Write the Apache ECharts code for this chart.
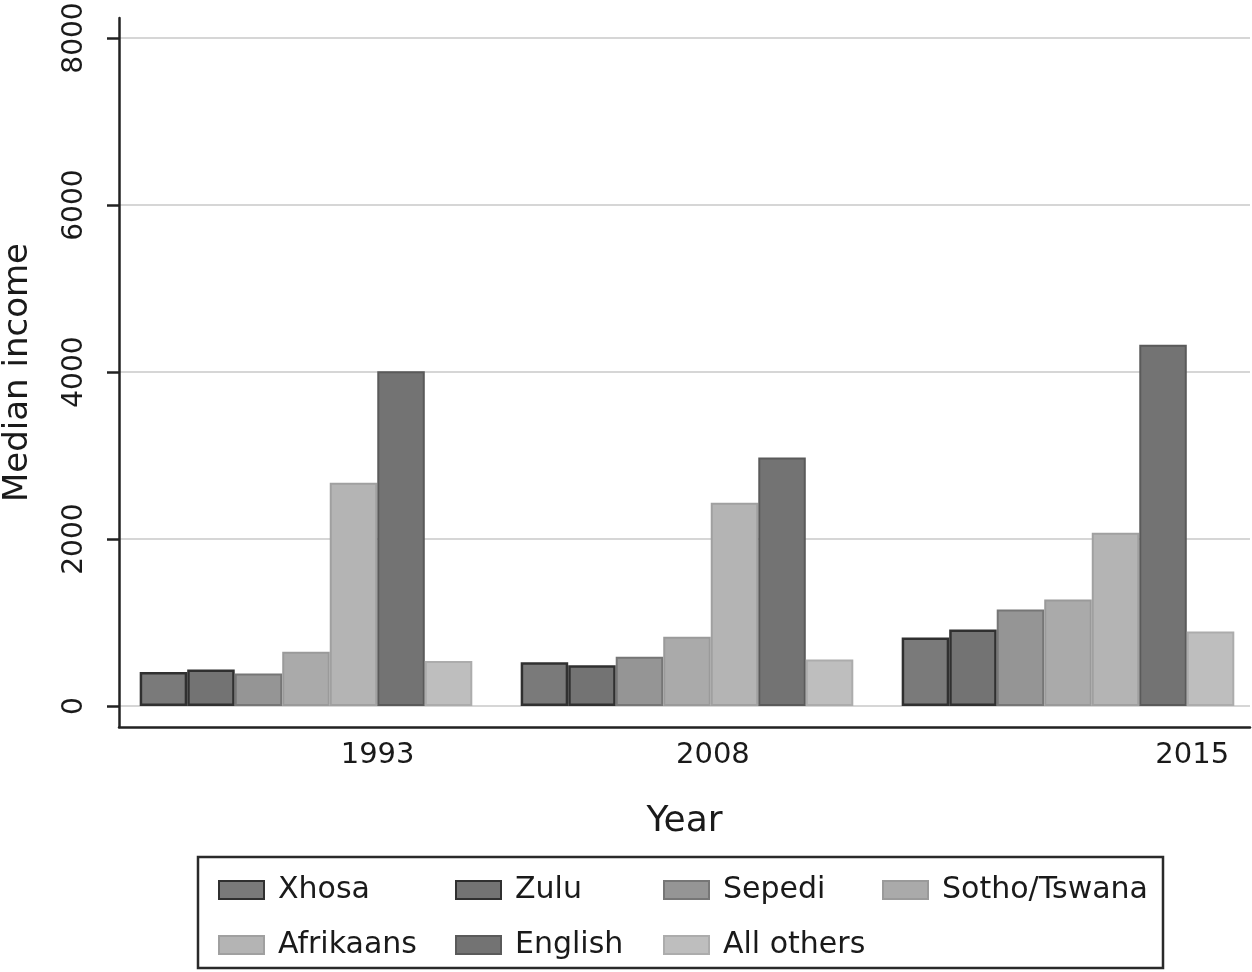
<!DOCTYPE html>
<html>
<head>
<meta charset="utf-8">
<script src="https://cdn.jsdelivr.net/npm/echarts@6/dist/echarts.min.js"></script>
<style>
html,body{margin:0;padding:0;background:#fff;}
#chart{width:1252px;height:972px;}
</style>
</head>
<body>
<div id="chart"></div>
<script>
// ---- data ----
const years = ['1993', '2008', '2015'];
const xhosa = [410, 525, 822];
const zulu = [440, 490, 918];
const sepedi = [390, 590, 1158];
const sothoTswana = [650, 830, 1277];
const afrikaans = [2675, 2435, 2076];
const english = [4010, 2978, 4327];
const allOthers = [540, 559, 894];
const yTicks = [0, 2000, 4000, 6000, 8000];

const seriesDefs = [
  { name: 'Xhosa', values: xhosa, fill: '#7a7a7a', border: '#303030', bw: 2.5 },
  { name: 'Zulu', values: zulu, fill: '#737373', border: '#303030', bw: 2.5 },
  { name: 'Sepedi', values: sepedi, fill: '#959595', border: '#767676', bw: 2 },
  { name: 'Sotho/Tswana', values: sothoTswana, fill: '#aaaaaa', border: '#9a9a9a', bw: 2 },
  { name: 'Afrikaans', values: afrikaans, fill: '#b4b4b4', border: '#a0a0a0', bw: 2 },
  { name: 'English', values: english, fill: '#737373', border: '#5a5a5a', bw: 2 },
  { name: 'All others', values: allOthers, fill: '#bebebe', border: '#acacac', bw: 2 }
];

const FONT = 'DejaVu Sans';
const chart = echarts.init(document.getElementById('chart'), null, { renderer: 'canvas' });

const series = seriesDefs.map(d => ({
  name: d.name,
  type: 'bar',
  barGap: '0%',
  barCategoryGap: '12.7%',
  data: d.values.map((v, i) => [i, v]),
  itemStyle: { color: d.fill, borderColor: d.border, borderWidth: d.bw },
  emphasis: { disabled: true },
  animation: false
}));

const legendCols = [
  { left: 218, names: ['Xhosa', 'Afrikaans'] },
  { left: 455, names: ['Zulu', 'English'] },
  { left: 663, names: ['Sepedi', 'All others'] },
  { left: 882, names: ['Sotho/Tswana'] }
];

const legends = legendCols.map(c => ({
  orient: 'vertical',
  left: c.left,
  top: 875,
  padding: 0,
  itemGap: 25,
  itemWidth: 45,
  itemHeight: 18,
  selectedMode: false,
  icon: 'rect',
  data: c.names,
  textStyle: { fontFamily: FONT, fontSize: 30, color: '#1a1a1a', lineHeight: 30, padding: [0, 0, 0, 9] }
}));

const option = {
  backgroundColor: '#ffffff',
  animation: false,
  grid: { left: 119, right: 2, top: 18, bottom: 245, containLabel: false, outerBoundsMode: 'none' },
  xAxis: {
    type: 'value',
    min: -0.4908,
    max: 2.4777,
    name: 'Year',
    nameLocation: 'middle',
    nameGap: 77,
    nameTextStyle: { fontFamily: FONT, fontSize: 36, color: '#1a1a1a' },
    axisLine: { show: true, onZero: false, lineStyle: { color: '#222', width: 2.5 } },
    axisTick: { show: false },
    splitLine: { show: false },
    axisLabel: {
      customValues: [0.188, 1.068, 2.326],
      formatter: v => years[Math.round(v)],
      fontFamily: FONT, fontSize: 29, color: '#1a1a1a', margin: 14
    }
  },
  yAxis: {
    type: 'value',
    min: -250,
    max: 8240,
    name: 'Median income',
    nameLocation: 'middle',
    nameRotate: 90,
    nameGap: 84,
    nameTextStyle: { fontFamily: FONT, fontSize: 34, color: '#1a1a1a' },
    axisLine: { show: true, onZero: false, lineStyle: { color: '#222', width: 2.5 } },
    axisTick: { show: true, length: 12, customValues: yTicks, lineStyle: { color: '#222', width: 2.5 } },
    splitLine: { show: true, lineStyle: { color: '#d6d6d6', width: 2 } },
    axisLabel: {
      customValues: yTicks,
      rotate: 90,
      formatter: v => String(v),
      fontFamily: FONT, fontSize: 28, color: '#1a1a1a', margin: 30
    }
  },
  legend: legends,
  graphic: [{
    type: 'rect',
    shape: { x: 198, y: 857, width: 965, height: 111 },
    style: { fill: 'none', stroke: '#2a2a2a', lineWidth: 2.5 },
    silent: true
  }],
  series: series
};
chart.setOption(option);
</script>
</body>
</html>
